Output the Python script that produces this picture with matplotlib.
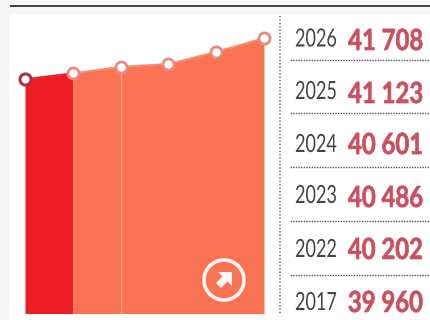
import matplotlib
matplotlib.use("Agg")
import matplotlib.pyplot as plt
from matplotlib.patches import Circle, Polygon, Rectangle
from matplotlib.patheffects import AbstractPathEffect
from matplotlib.transforms import Affine2D

# Population per year
years = [2017, 2022, 2023, 2024, 2025, 2026]
values = [39960, 40202, 40486, 40601, 41123, 41708]

# Table rows, top to bottom
row_years = ["2026", "2025", "2024", "2023", "2022", "2017"]
row_values = ["41 708", "41 123", "40 601", "40 486", "40 202", "39 960"]
year_baselines = [46.5, 99, 152, 203, 257, 310]
value_baselines = [50, 103, 154, 207, 259, 312]
row_rules = [60, 113, 167, 221, 275]

W, H = 430, 320


class TallGlyphs(AbstractPathEffect):
    """Stretches glyphs upward from their baseline, giving a condensed look."""

    def __init__(self, baseline_px, factor, stroke=0.0):
        super().__init__()
        self.baseline_px = baseline_px
        self.factor = factor
        self.stroke = stroke

    def draw_path(self, renderer, gc, tpath, affine, rgbFace=None):
        stretch = (Affine2D().translate(0, -self.baseline_px)
                   .scale(1, self.factor).translate(0, self.baseline_px))
        gc0 = renderer.new_gc()
        gc0.copy_properties(gc)
        if self.stroke:
            gc0.set_linewidth(self.stroke)
            gc0.set_foreground(rgbFace)
        renderer.draw_path(gc0, tpath, affine + stretch, rgbFace)
        gc0.restore()


fig = plt.figure(figsize=(W / 100, H / 100), dpi=100, facecolor="#f6f6f6")

# Overlay in pixel coordinates for panel, rules and table text
ov = fig.add_axes([0, 0, 1, 1], zorder=1)
ov.set_xlim(0, W)
ov.set_ylim(H, 0)
ov.axis("off")
ov.add_patch(Rectangle((10, 14), W - 10, H - 14, color="white", lw=0))
ov.plot([10, W], [6, 6], color="#222222", lw=1.2, solid_capstyle="butt")
ov.plot([279.5, 279.5], [16, 315], color="#77707a", lw=1.1, ls=(0, (1, 1.2)))
for y in row_rules:
    ov.plot([290, W], [y, y], color="#555555", lw=1.0, ls=(0, (1, 0.9)))
for yb, vb, yr, val in zip(year_baselines, value_baselines, row_years, row_values):
    ov.text(295, yb, yr, family="Lato", fontsize=13, color="#444444",
            ha="left", va="baseline",
            path_effects=[TallGlyphs(H - yb, 1 / 0.72)])
    ov.text(423, vb, val, family="Lato", fontsize=17.2, fontweight="bold",
            color="#c9505f", ha="right", va="baseline",
            path_effects=[TallGlyphs(H - vb, 1 / 0.82, stroke=0.5)])

# Chart axes spanning the figure so that data sits at its place on the panel
ax = fig.add_axes([0, 0, 1, 1], zorder=2)
ax.patch.set_alpha(0)
ax.axis("off")
step = (264 - 25) / 5
ax.set_xlim(-25 / step, (W - 25) / step)
ax.set_ylim(29687, 43327)
base = 29687 + (320 - 313.5) / (320 / (43327 - 29687))
idx = list(range(len(values)))
ax.fill_between(idx[:2], values[:2], base, color="#ee1c25", lw=0)
ax.fill_between(idx[1:], values[1:], base, color="#fa7355", lw=0)
ax.plot([2, 2], [base, values[2]], color="#fb9a82", lw=1)
ax.plot(idx[1:], values[1:], color="#f98a72", lw=1.2)
ax.plot(idx[:2], values[:2], color="#d8202c", lw=1.2)
ax.plot(idx[1:], values[1:], ls="none", marker="o", ms=8, mfc="white",
        mec="#e98a7c", mew=2)
ax.plot(idx[:1], values[:1], ls="none", marker="o", ms=8, mfc="white",
        mec="#b03045", mew=2.2)

# Round arrow badge
ic = fig.add_axes([0, 0, 1, 1], zorder=3)
ic.set_xlim(0, W)
ic.set_ylim(H, 0)
ic.axis("off")
ic.add_patch(Circle((224, 280), 20, fc="none", ec="#fff6f2", lw=2.6))
ic.add_patch(Polygon([(232, 272), (232, 286), (227.5, 281.5), (221, 288),
                      (216, 283), (222.5, 276.5), (218, 272)], closed=True,
                     fc="#fff6f2", ec="none"))

fig.savefig("out.png", dpi=100, facecolor=fig.get_facecolor())
